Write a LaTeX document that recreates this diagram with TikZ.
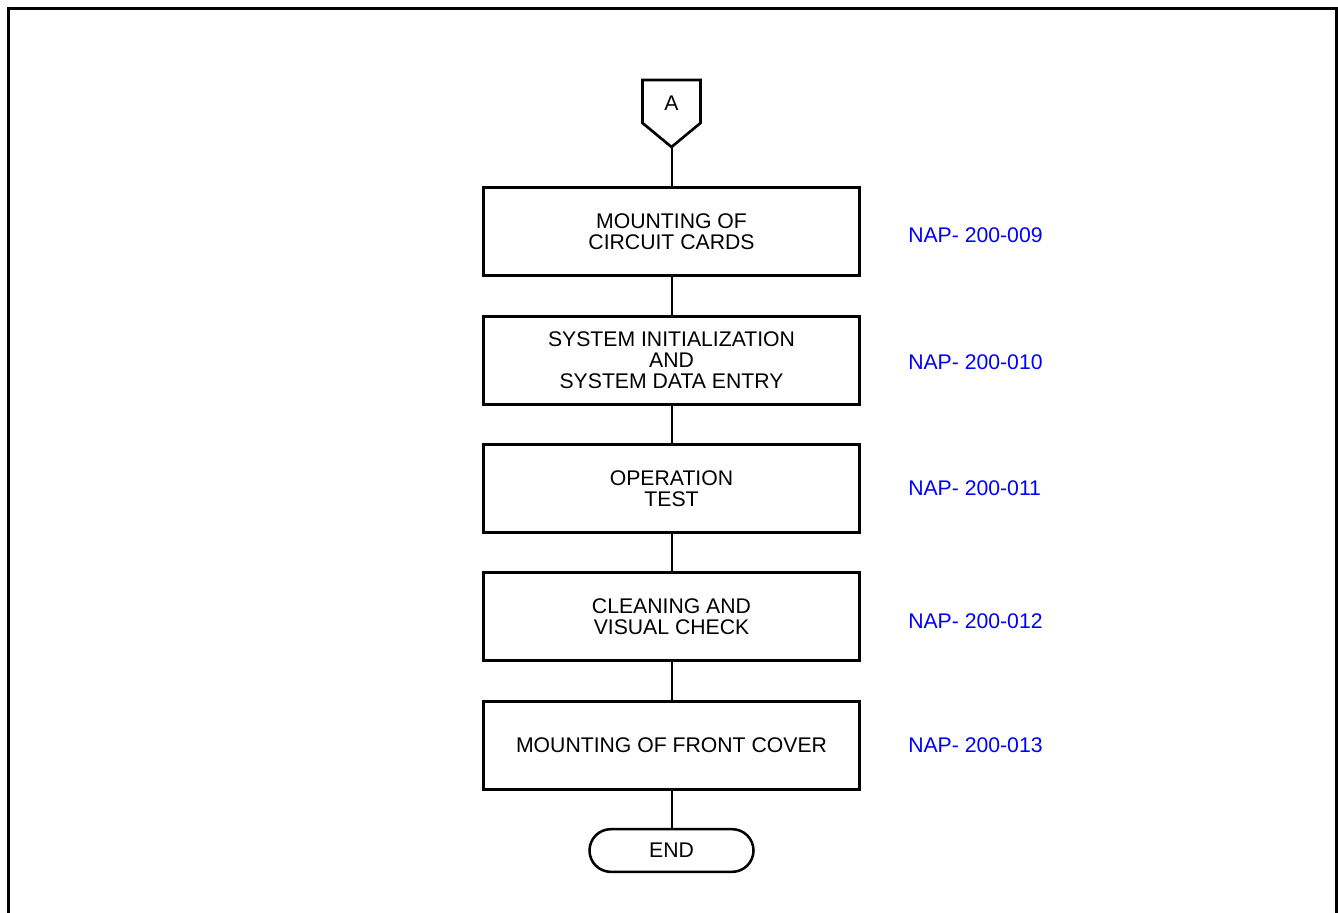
\documentclass[tikz,border=0pt]{standalone}
\usepackage{fontspec}
\setmainfont{Liberation Sans}
\definecolor{napblue}{RGB}{0,0,255}
\tikzset{
  txt/.style={font=\fontsize{15.9}{15.6}\selectfont},
  stepbox/.style={draw, line width=2.25pt, minimum width=282pt, minimum height=66pt, align=center, inner sep=0pt, txt},
  conn/.style={line width=1.5pt},
  naplabel/.style={anchor=west, inner sep=0pt, text=napblue, txt},
  endbox/.style={draw, line width=1.9pt, minimum width=123pt, minimum height=32pt, rounded corners=16pt, inner sep=0pt, txt},
}
\begin{document}
\begin{tikzpicture}[x=0.75pt,y=-0.75pt]
\useasboundingbox (0,0) rectangle (1338,913);
% outer frame
\draw[line width=2.25pt] (8,920) -- (8,9) -- (1336,9) -- (1336,920);
% off-page connector A
\draw[line width=2pt, line join=miter] (642.5,80) -- (700.5,80) -- (700.5,123) -- (671.5,147) -- (642.5,123) -- cycle;
\node[inner sep=0pt, txt] (A) at (671.5,103) {A};
\coordinate (Atip) at (671.5,147);
% steps
\node[stepbox] (s1) at (671.5,231.5) {MOUNTING OF\\CIRCUIT CARDS};
\node[stepbox] (s2) at (671.5,360) {SYSTEM INITIALIZATION\\AND\\SYSTEM DATA ENTRY};
\node[stepbox] (s3) at (671.5,488.5) {OPERATION\\TEST};
\node[stepbox] (s4) at (671.5,616.5) {CLEANING AND\\VISUAL CHECK};
\node[stepbox] (s5) at (671.5,745.5) {MOUNTING OF FRONT COVER};
\node[endbox] (e) at (671.5,850.5) {END};
% connectors
\draw[conn] (Atip) -- (s1.north);
\draw[conn] (s1.south) -- (s2.north);
\draw[conn] (s2.south) -- (s3.north);
\draw[conn] (s3.south) -- (s4.north);
\draw[conn] (s4.south) -- (s5.north);
\draw[conn] (s5.south) -- (e.north);
% references
\node[naplabel] (n1) at (908,235) {NAP- 200-009};
\node[naplabel] (n2) at (908,362) {NAP- 200-010};
\node[naplabel] (n3) at (908,488) {NAP- 200-011};
\node[naplabel] (n4) at (908,621) {NAP- 200-012};
\node[naplabel] (n5) at (908,745) {NAP- 200-013};
\end{tikzpicture}
\end{document}
